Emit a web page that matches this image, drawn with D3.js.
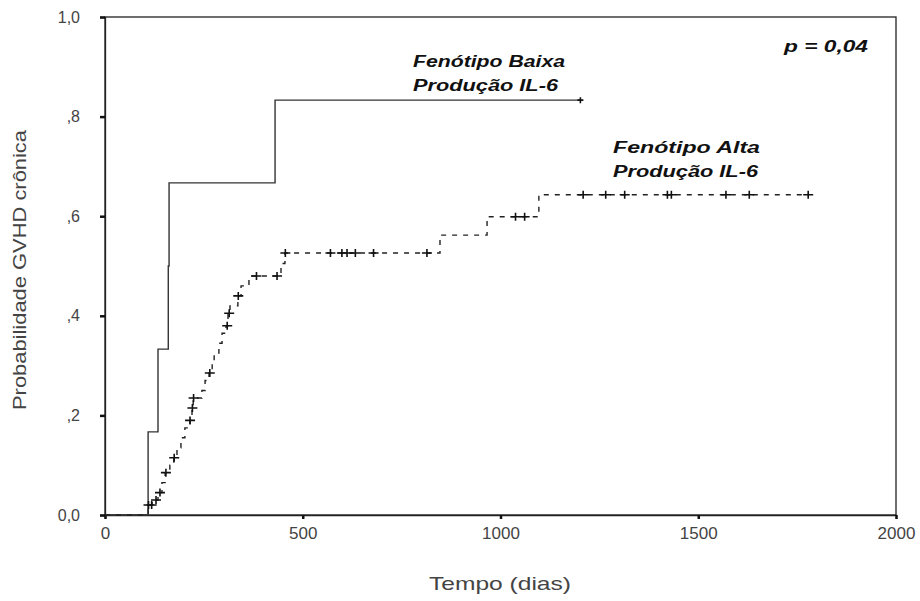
<!DOCTYPE html>
<html>
<head>
<meta charset="utf-8">
<script src="https://cdn.jsdelivr.net/npm/d3@7"></script>
<style>
  body { margin: 0; background: #fff; }
  svg { display: block; }
</style>
</head>
<body>
<div id="chart"></div>
<script>
// Kaplan-Meier curves (tempo em dias, probabilidade)
const baixaTimes = [0, 109, 134, 160, 162, 430];
const baixaProb = [0, 0.167, 0.333, 0.5, 0.667, 0.833];
const baixaCensor = [1202];

const altaTimes = [0, 109, 119, 134, 144, 152, 164, 174, 182, 192, 202, 215, 220, 223,
  245, 253, 263, 271, 276, 288, 296, 306, 311, 316, 336, 344, 364, 445, 455, 847, 966, 1097];
const altaProb = [0, 0.02, 0.03, 0.045, 0.065, 0.085, 0.10, 0.115, 0.135, 0.155, 0.175, 0.19, 0.215, 0.235,
  0.25, 0.27, 0.285, 0.305, 0.325, 0.345, 0.365, 0.38, 0.405, 0.42, 0.44, 0.46, 0.48, 0.505, 0.526, 0.562, 0.599, 0.643];
const altaCensor = [110, 118, 129, 139, 154, 175, 215, 221, 224, 265, 309, 314, 337, 383, 435, 456,
  570, 599, 612, 633, 679, 814, 1038, 1061, 1209, 1266, 1314, 1422, 1432, 1570, 1629, 1778];

const xTicks = [0, 500, 1000, 1500, 2000];
const xTickLabels = ["0", "500", "1000", "1500", "2000"];
const yTicks = [0, 0.2, 0.4, 0.6, 0.8, 1.0];
const yTickLabels = ["0,0", ",2", ",4", ",6", ",8", "1,0"];

const W = 920, H = 601;
const svg = d3.select("#chart").append("svg")
    .attr("width", W)
    .attr("height", H);

const x = d3.scaleLinear().domain([0, 2000]).range([105, 896]);
const y = d3.scaleLinear().domain([0, 1]).range([515, 17]);

// frame
svg.append("rect")
    .attr("x", x(0)).attr("y", y(1))
    .attr("width", x(2000) - x(0)).attr("height", y(0) - y(1))
    .attr("fill", "none").attr("stroke", "#222").attr("stroke-width", 1.3);

const tickFont = "'Liberation Sans', Arial, sans-serif";

// y axis
const yAxis = svg.append("g")
    .attr("transform", `translate(${x(0)},0)`)
    .call(d3.axisLeft(y).tickValues(yTicks).tickSize(5).tickPadding(20)
        .tickFormat((d, i) => yTickLabels[i]));
yAxis.select(".domain").attr("stroke", "#222").attr("stroke-width", 1.3);
yAxis.selectAll(".tick line").attr("stroke", "#111").attr("stroke-width", 2.5);
yAxis.selectAll(".tick text")
    .attr("fill", "#444").attr("font-family", tickFont).attr("font-size", 16);

// x axis
const xAxis = svg.append("g")
    .attr("transform", `translate(0,${y(0)})`)
    .call(d3.axisBottom(x).tickValues(xTicks).tickSize(4).tickPadding(8)
        .tickFormat((d, i) => xTickLabels[i]));
xAxis.select(".domain").attr("stroke", "#222").attr("stroke-width", 1.3);
xAxis.selectAll(".tick line").attr("stroke", "#111").attr("stroke-width", 2.5);
xAxis.selectAll(".tick text")
    .attr("fill", "#444").attr("font-family", tickFont).attr("font-size", 17);

// axis titles
svg.append("text")
    .attr("x", 500).attr("y", 590)
    .attr("text-anchor", "middle")
    .attr("font-family", tickFont).attr("font-size", 19).attr("fill", "#444")
    .attr("textLength", 142).attr("lengthAdjust", "spacingAndGlyphs")
    .text("Tempo (dias)");

svg.append("text")
    .attr("transform", "translate(26,270) rotate(-90)")
    .attr("text-anchor", "middle")
    .attr("font-family", tickFont).attr("font-size", 19).attr("fill", "#444")
    .attr("textLength", 280).attr("lengthAdjust", "spacingAndGlyphs")
    .text("Probabilidade GVHD crônica");

// step curves
function stepValue(times, probs, t) {
    let p = 0;
    times.forEach((tt, i) => { if (tt <= t) p = probs[i]; });
    return p;
}

const line = d3.line()
    .x(d => x(d[0]))
    .y(d => y(d[1]))
    .curve(d3.curveStepAfter);

function curvePoints(times, probs, censor) {
    const pts = times.map((t, i) => [t, probs[i]]);
    const last = d3.max(censor);
    pts.push([last, stepValue(times, probs, last)]);
    return pts;
}

svg.append("path")
    .datum(curvePoints(baixaTimes, baixaProb, baixaCensor))
    .attr("d", line)
    .attr("fill", "none")
    .attr("stroke", "#333")
    .attr("stroke-width", 1.4);

svg.append("path")
    .datum(curvePoints(altaTimes, altaProb, altaCensor))
    .attr("d", line)
    .attr("fill", "none")
    .attr("stroke", "#222")
    .attr("stroke-width", 1.4)
    .attr("stroke-dasharray", "5,6");

// censor marks
function censorMarks(times, probs, censor, hw, hh) {
    svg.append("g").selectAll("path")
        .data(censor)
        .join("path")
        .attr("d", t => {
            const cx = x(t), cy = y(stepValue(times, probs, t));
            return `M${cx - hw},${cy}H${cx + hw}M${cx},${cy - hh}V${cy + hh}`;
        })
        .attr("fill", "none")
        .attr("stroke", "#111")
        .attr("stroke-width", 1.6);
}
censorMarks(baixaTimes, baixaProb, baixaCensor, 3, 3);
censorMarks(altaTimes, altaProb, altaCensor, 5, 4);

// annotations
const noteFont = "'Liberation Sans', Arial, sans-serif";
function note(px, py, str, len) {
    svg.append("text")
        .attr("x", px).attr("y", py)
        .attr("font-family", noteFont)
        .attr("font-size", 16)
        .attr("font-weight", "bold")
        .attr("font-style", "italic")
        .attr("fill", "#111")
        .attr("textLength", len).attr("lengthAdjust", "spacingAndGlyphs")
        .text(str);
}
note(413, 67, "Fenótipo Baixa", 152);
note(413, 91, "Produção IL-6", 145);
note(613, 153, "Fenótipo Alta", 147);
note(613, 177, "Produção IL-6", 145);
note(784, 52, "p = 0,04", 84);
</script>
</body>
</html>
